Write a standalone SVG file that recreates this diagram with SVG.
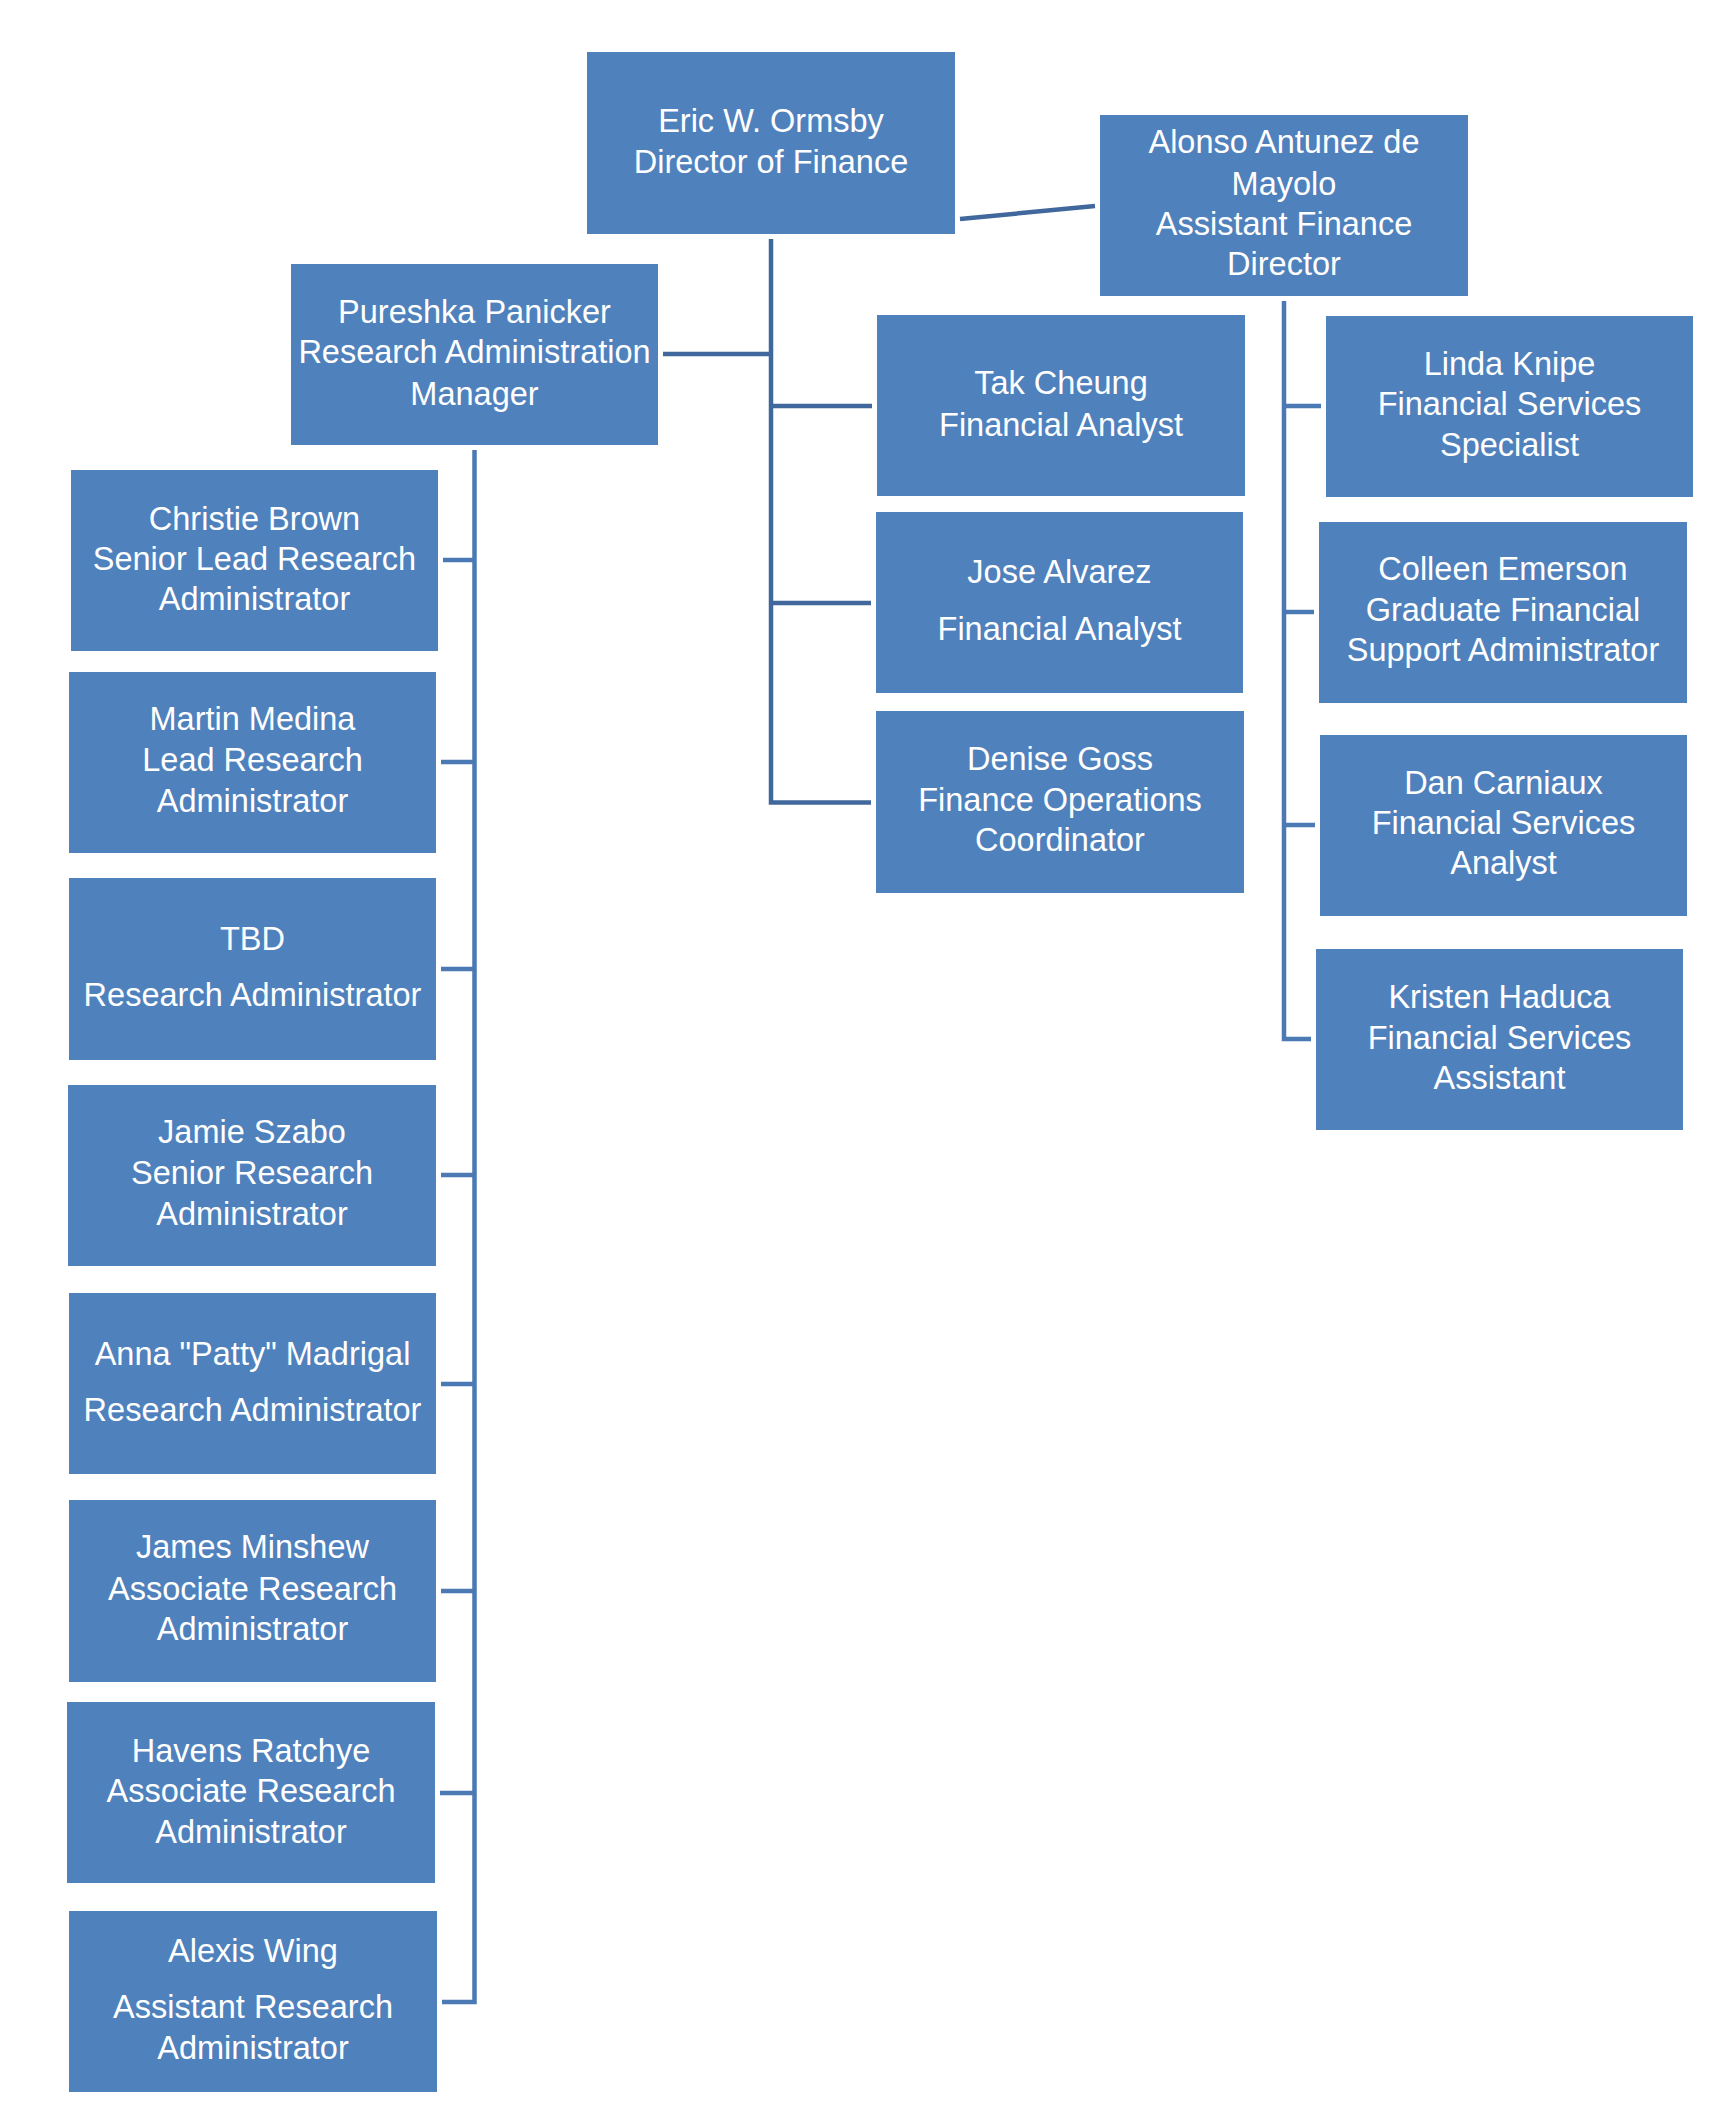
<svg xmlns="http://www.w3.org/2000/svg" width="1726" height="2107" viewBox="0 0 1726 2107">
<style>
.box{fill:#4F81BD;}
.t{fill:#FFFFFF;font-family:"Liberation Sans",Arial,sans-serif;font-size:32.5px;text-anchor:middle;}
.c1{fill:none;stroke:#41689C;stroke-width:4.5;stroke-linejoin:miter;}
.c2{fill:none;stroke:#4A79B3;stroke-width:4.5;stroke-linejoin:miter;}
</style>
<rect width="1726" height="2107" fill="#FFFFFF"/>
<g id="connectors">
<line class="c1" x1="960" y1="219" x2="1095" y2="206"/>
<polyline class="c1" points="771,239 771,802.5 871,802.5"/>
<line class="c1" x1="663" y1="354" x2="771" y2="354"/>
<line class="c1" x1="771" y1="406" x2="872" y2="406"/>
<line class="c1" x1="771" y1="603" x2="871" y2="603"/>
<polyline class="c2" points="1284,301 1284,1039 1311,1039"/>
<line class="c2" x1="1284" y1="406" x2="1321" y2="406"/>
<line class="c2" x1="1284" y1="612" x2="1314" y2="612"/>
<line class="c2" x1="1284" y1="825" x2="1315" y2="825"/>
<polyline class="c2" points="474.5,450 474.5,2002 442,2002"/>
<line class="c2" x1="443" y1="560" x2="474.5" y2="560"/>
<line class="c2" x1="441" y1="762" x2="474.5" y2="762"/>
<line class="c2" x1="441" y1="969" x2="474.5" y2="969"/>
<line class="c2" x1="441" y1="1175" x2="474.5" y2="1175"/>
<line class="c2" x1="441" y1="1384" x2="474.5" y2="1384"/>
<line class="c2" x1="441" y1="1591" x2="474.5" y2="1591"/>
<line class="c2" x1="440" y1="1793" x2="474.5" y2="1793"/>
</g>
<g id="eric"><rect class="box" x="587" y="52" width="368" height="182"/>
<text class="t" x="771" y="131.7">Eric W. Ormsby</text><text class="t" x="771" y="172.7">Director of Finance</text></g>
<g id="alonso"><rect class="box" x="1100" y="115" width="368" height="181"/>
<text class="t" x="1284" y="153">Alonso Antunez de</text><text class="t" x="1284" y="195">Mayolo</text><text class="t" x="1284" y="235">Assistant Finance</text><text class="t" x="1284" y="275">Director</text></g>
<g id="pureshka"><rect class="box" x="291" y="264" width="367" height="181"/>
<text class="t" x="474.5" y="323">Pureshka Panicker</text><text class="t" x="474.5" y="363">Research Administration</text><text class="t" x="474.5" y="405">Manager</text></g>
<g id="tak"><rect class="box" x="877" y="315" width="368" height="181"/>
<text class="t" x="1061" y="394">Tak Cheung</text><text class="t" x="1061" y="436">Financial Analyst</text></g>
<g id="jose"><rect class="box" x="876" y="512" width="367" height="181"/>
<text class="t" x="1059.5" y="583">Jose Alvarez</text><text class="t" x="1059.5" y="640">Financial Analyst</text></g>
<g id="denise"><rect class="box" x="876" y="711" width="368" height="182"/>
<text class="t" x="1060" y="770">Denise Goss</text><text class="t" x="1060" y="811">Finance Operations</text><text class="t" x="1060" y="851">Coordinator</text></g>
<g id="linda"><rect class="box" x="1326" y="316" width="367" height="181"/>
<text class="t" x="1509.5" y="375">Linda Knipe</text><text class="t" x="1509.5" y="415">Financial Services</text><text class="t" x="1509.5" y="456">Specialist</text></g>
<g id="colleen"><rect class="box" x="1319" y="522" width="368" height="181"/>
<text class="t" x="1503" y="580">Colleen Emerson</text><text class="t" x="1503" y="621">Graduate Financial</text><text class="t" x="1503" y="661">Support Administrator</text></g>
<g id="dan"><rect class="box" x="1320" y="735" width="367" height="181"/>
<text class="t" x="1503.5" y="794">Dan Carniaux</text><text class="t" x="1503.5" y="834">Financial Services</text><text class="t" x="1503.5" y="874">Analyst</text></g>
<g id="kristen"><rect class="box" x="1316" y="949" width="367" height="181"/>
<text class="t" x="1499.5" y="1008">Kristen Haduca</text><text class="t" x="1499.5" y="1049">Financial Services</text><text class="t" x="1499.5" y="1089">Assistant</text></g>
<g id="christie"><rect class="box" x="71" y="470" width="367" height="181"/>
<text class="t" x="254.5" y="530">Christie Brown</text><text class="t" x="254.5" y="570">Senior Lead Research</text><text class="t" x="254.5" y="610">Administrator</text></g>
<g id="martin"><rect class="box" x="69" y="672" width="367" height="181"/>
<text class="t" x="252.5" y="730">Martin Medina</text><text class="t" x="252.5" y="771">Lead Research</text><text class="t" x="252.5" y="812">Administrator</text></g>
<g id="tbd"><rect class="box" x="69" y="878" width="367" height="182"/>
<text class="t" x="252.5" y="950">TBD</text><text class="t" x="252.5" y="1006">Research Administrator</text></g>
<g id="jamie"><rect class="box" x="68" y="1085" width="368" height="181"/>
<text class="t" x="252" y="1143">Jamie Szabo</text><text class="t" x="252" y="1184">Senior Research</text><text class="t" x="252" y="1225">Administrator</text></g>
<g id="anna"><rect class="box" x="69" y="1293" width="367" height="181"/>
<text class="t" x="252.5" y="1365">Anna "Patty" Madrigal</text><text class="t" x="252.5" y="1421">Research Administrator</text></g>
<g id="james"><rect class="box" x="69" y="1500" width="367" height="182"/>
<text class="t" x="252.5" y="1558">James Minshew</text><text class="t" x="252.5" y="1600">Associate Research</text><text class="t" x="252.5" y="1640">Administrator</text></g>
<g id="havens"><rect class="box" x="67" y="1702" width="368" height="181"/>
<text class="t" x="251" y="1762">Havens Ratchye</text><text class="t" x="251" y="1802">Associate Research</text><text class="t" x="251" y="1843">Administrator</text></g>
<g id="alexis"><rect class="box" x="69" y="1911" width="368" height="181"/>
<text class="t" x="253" y="1962">Alexis Wing</text><text class="t" x="253" y="2018">Assistant Research</text><text class="t" x="253" y="2059">Administrator</text></g>
</svg>
